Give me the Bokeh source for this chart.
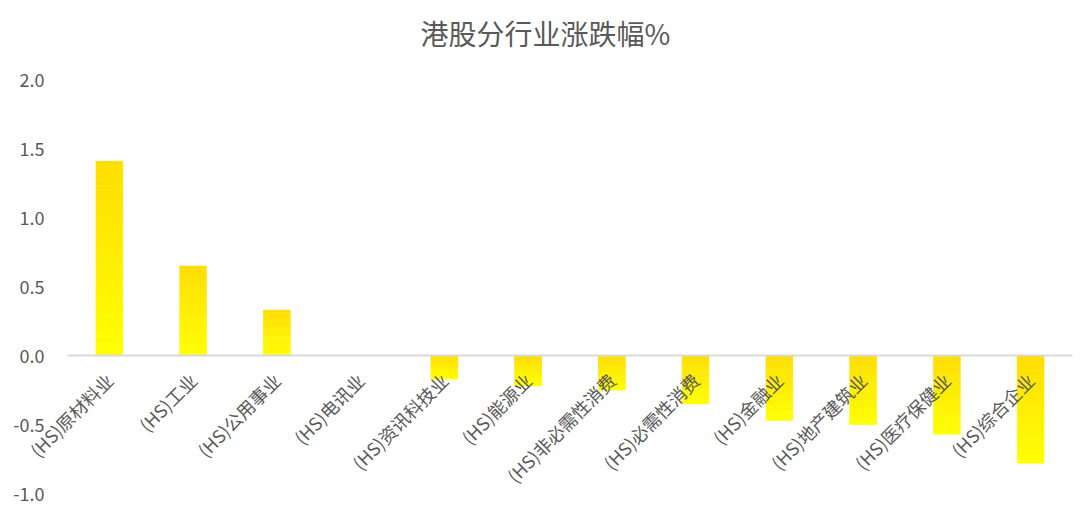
import numpy as np
from bokeh.plotting import figure
from bokeh.models import Range1d, ColumnDataSource, PrintfTickFormatter, FixedTicker
from bokeh.core.properties import value
from bokeh.embed import file_html
from bokeh.resources import INLINE

categories = ["(HS)原材料业", "(HS)工业", "(HS)公用事业", "(HS)电讯业", "(HS)资讯科技业",
              "(HS)能源业", "(HS)非必需性消费", "(HS)必需性消费", "(HS)金融业",
              "(HS)地产建筑业", "(HS)医疗保健业", "(HS)综合企业"]
values = [1.41, 0.65, 0.33, 0.0, -0.17, -0.22, -0.25, -0.35, -0.47, -0.50, -0.57, -0.78]
y_ticks = [-1.0, -0.5, 0.0, 0.5, 1.0, 1.5, 2.0]
title_text = "港股分行业涨跌幅%"

FONT = "Noto Sans CJK SC"
GRAY = "#595959"
TOP_RGB = (255, 221, 0)
BOT_RGB = (255, 255, 0)

# canvas / plot-area geometry in pixels
W, H = 1092, 507
PLOT_L, PLOT_R = 67, 1072        # category area
Y_TOP_PX, Y_BOT_PX = 79.5, 493   # positions of y=2.0 and y=-1.0
ncat = len(categories)
px_per_cat = (PLOT_R - PLOT_L) / ncat
px_per_unit = (Y_BOT_PX - Y_TOP_PX) / (y_ticks[-1] - y_ticks[0])
x0 = -0.5 - PLOT_L / px_per_cat
x1 = ncat - 0.5 + (W - PLOT_R) / px_per_cat
ytop = y_ticks[-1] + Y_TOP_PX / px_per_unit
ybot = y_ticks[0] - (H - Y_BOT_PX) / px_per_unit

p = figure(width=W, height=H, x_range=Range1d(x0, x1), y_range=Range1d(ybot, ytop),
           output_backend="svg", toolbar_location=None,
           min_border_left=0, min_border_right=0, min_border_top=0, min_border_bottom=0)
p.outline_line_color = None
p.xgrid.visible = False
p.ygrid.visible = False

idx = list(range(ncat))

# y axis drawn at the left edge of the category area
ya = p.yaxis[0]
ya.fixed_location = -0.5
ya.ticker = FixedTicker(ticks=y_ticks)
ya.formatter = PrintfTickFormatter(format="%.1f")
ya.axis_line_color = None
ya.major_tick_line_color = None
ya.minor_tick_line_color = None
ya.major_tick_out = 0
ya.major_tick_in = 0
ya.major_label_standoff = 23
ya.major_label_text_font = FONT
ya.major_label_text_font_size = "18px"
ya.major_label_text_color = GRAY

# gradient bars, built as thin slices from each value
n = 40
xs, tops, bots, cols = [], [], [], []
for i_c, v in zip(idx, values):
    if v == 0:
        continue
    hi, lo = max(v, 0.0), min(v, 0.0)
    edges = np.linspace(hi, lo, n + 1)
    for i in range(n):
        t = (i + 0.5) / n
        r = int(round(TOP_RGB[0] + (BOT_RGB[0] - TOP_RGB[0]) * t))
        g = int(round(TOP_RGB[1] + (BOT_RGB[1] - TOP_RGB[1]) * t))
        b = int(round(TOP_RGB[2] + (BOT_RGB[2] - TOP_RGB[2]) * t))
        xs.append(i_c)
        tops.append(edges[i])
        bots.append(edges[i + 1])
        cols.append("#%02x%02x%02x" % (r, g, b))
src = ColumnDataSource(dict(x=xs, top=tops, bottom=bots, color=cols))
p.vbar(x="x", top="top", bottom="bottom", width=0.32, source=src,
       fill_color="color", line_color="color", line_width=0.6)

# category axis crossing at zero
xa = p.xaxis[0]
xa.fixed_location = 0
xa.bounds = (-0.5, ncat - 0.5)
xa.ticker = FixedTicker(ticks=idx)
xa.major_label_overrides = {i: c for i, c in zip(idx, categories)}
xa.axis_line_color = "#D9D9D9"
xa.axis_line_width = 2
xa.major_tick_line_color = None
xa.minor_tick_line_color = None
xa.major_tick_out = 0
xa.major_tick_in = 0
xa.major_label_orientation = np.pi / 4
xa.major_label_standoff = 21
xa.major_label_text_font = FONT
xa.major_label_text_font_size = "18px"
xa.major_label_text_color = GRAY

# chart title, centred on the page
title_x = x0 + 545 / px_per_cat
title_y = ytop - 32 / px_per_unit
p.text(x=[title_x], y=[title_y], text=[title_text], text_align="center", text_baseline="middle",
       text_font=value(FONT), text_font_size="28px", text_color=GRAY)

open("out.html", "w").write(file_html(p, INLINE))
